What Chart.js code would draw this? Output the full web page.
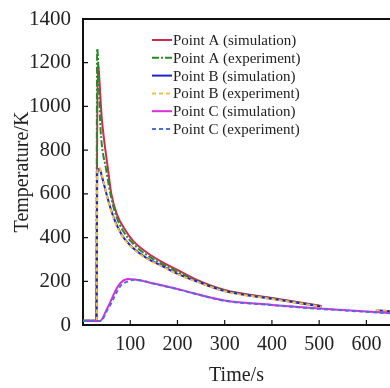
<!DOCTYPE html>
<html>
<head>
<meta charset="utf-8">
<script src="https://cdn.jsdelivr.net/npm/chart.js@4.4.1/dist/chart.umd.min.js"></script>
<style>
  html, body { margin: 0; padding: 0; background: #fff; overflow: hidden; }
  #wrap { width: 390px; height: 388px; }
</style>
</head>
<body>
<div id="wrap"><canvas id="chart" width="390" height="388"></canvas></div>
<script>
// Temperature history at points A, B, C (simulation vs experiment)

var xTicks = [100, 200, 300, 400, 500, 600];
var yTicks = [0, 200, 400, 600, 800, 1000, 1200, 1400];

// Point A
var timeA = [0, 28, 31, 40, 53, 60, 72, 89, 106, 135, 170, 205, 240, 300, 400, 505];
var aSim  = [20, 20, 1200, 940, 711, 600, 505, 436, 385, 332, 285, 246, 207, 160, 124, 87];
var timeAExp = [0, 28, 30, 37, 49, 60, 70, 85, 106, 135, 170, 205, 240, 300, 400, 505];
var aExp     = [20, 20, 1265, 900, 711, 580, 500, 430, 372, 320, 276, 238, 203, 158, 122, 86];

// Point B (null = gap in the record)
var timeB = [0, 29, 30, 35, 40, 53, 64, 82, 106, 135, 170, 205, 240, 300, 400, 505, 560, 620, 650];
var bSim  = [20, 20, 690, 715, 680, 573, 497, 413, 352, 306, 267, 229, 200, 155, 120, 85, null, 68, 63];
var bExp  = [20, 20, 700, 720, 685, 570, 492, 410, 350, 303, 265, 228, 199, 154, 119, 84, null, 69, 64];

// Point C
var timeC = [0, 36, 50, 57, 65, 75, 85, 95, 110, 150, 200, 226, 300, 400, 500, 650];
var cSim  = [18, 18, 70, 101, 140, 180, 203, 211, 208, 190, 165, 150, 112, 92, 75, 55];
var timeCExp = [0, 37, 52, 60, 70, 80, 95, 110, 150, 200, 300, 400, 500, 650];
var cExp     = [18, 18, 70, 101, 145, 180, 200, 207, 189, 164, 111, 91, 74, 54];

var seriesLabels = [
    'Point A (simulation)', 'Point A (experiment)',
    'Point B (simulation)', 'Point B (experiment)',
    'Point C (simulation)', 'Point C (experiment)'
];

function pts(xs, ys) {
    return xs.map(function (x, i) { return { x: x, y: ys[i] }; });
}

var SERIF = '"Liberation Serif", "Times New Roman", serif';

function makeSet(label, xs, ys, color, dash, order) {
    return {
        label: label,
        data: pts(xs, ys),
        borderColor: color,
        backgroundColor: color,
        borderWidth: 2,
        borderDash: dash,
        pointRadius: 0,
        cubicInterpolationMode: 'monotone',
        spanGaps: false,
        order: order
    };
}

// legend drawn inside the plot, like the original figure
var innerLegend = {
    id: 'innerLegend',
    afterDraw: function (chart) {
        var ctx = chart.ctx;
        var area = chart.chartArea;
        var x0 = area.left + 69;
        var y0 = area.top + 21;
        ctx.save();
        ctx.font = '15px ' + SERIF;
        ctx.textBaseline = 'middle';
        chart.data.datasets.forEach(function (ds, i) {
            var y = y0 + i * 17.8;
            ctx.beginPath();
            ctx.strokeStyle = ds.borderColor;
            ctx.lineWidth = 2;
            ctx.setLineDash(ds.borderDash || []);
            ctx.moveTo(x0, y);
            ctx.lineTo(x0 + 20, y);
            ctx.stroke();
            ctx.setLineDash([]);
            ctx.fillStyle = '#222';
            ctx.fillText(ds.label, x0 + 21, y + 1);
        });
        ctx.restore();
    }
};

// inward tick marks + top frame line
var frame = {
    id: 'frame',
    afterDraw: function (chart) {
        var ctx = chart.ctx;
        var area = chart.chartArea;
        var xs = chart.scales.x, ys = chart.scales.y;
        ctx.save();
        ctx.strokeStyle = '#111';
        ctx.lineWidth = 2;
        ctx.beginPath();
        ctx.moveTo(area.left - 1, area.top);
        ctx.lineTo(area.right + 5, area.top);
        ctx.stroke();
        ctx.lineWidth = 1.2;
        ctx.beginPath();
        xs.ticks.forEach(function (t) {
            var px = xs.getPixelForValue(t.value);
            ctx.moveTo(px, area.bottom);
            ctx.lineTo(px, area.bottom - 5);
        });
        ys.ticks.forEach(function (t) {
            var py = ys.getPixelForValue(t.value);
            ctx.moveTo(area.left, py);
            ctx.lineTo(area.left + 5, py);
        });
        ctx.stroke();
        ctx.restore();
    }
};

function plain(v) { return String(v); }

new Chart(document.getElementById('chart').getContext('2d'), {
    type: 'line',
    data: {
        datasets: [
            makeSet(seriesLabels[0], timeA, aSim, '#cc2d4f', [], 6),
            makeSet(seriesLabels[1], timeAExp, aExp, '#2a8a2a', [7, 2, 2, 2], 5),
            makeSet(seriesLabels[2], timeB, bSim, '#1f22c8', [], 4),
            makeSet(seriesLabels[3], timeB, bExp, '#f4c043', [4, 3], 3),
            makeSet(seriesLabels[4], timeC, cSim, '#e02ae0', [], 2),
            makeSet(seriesLabels[5], timeCExp, cExp, '#4a72d4', [4, 3], 1)
        ]
    },
    options: {
        responsive: false,
        animation: false,
        layout: { padding: { top: 19, right: 0, left: 0, bottom: 0 } },
        plugins: {
            legend: { display: false },
            tooltip: { enabled: false }
        },
        scales: {
            x: {
                type: 'linear',
                min: 0,
                max: 650,
                afterBuildTicks: function (scale) {
                    scale.ticks = xTicks.map(function (v) { return { value: v }; });
                },
                afterFit: function (scale) { scale.height = 63; },
                grid: { display: false },
                border: { display: true, color: '#111', width: 2 },
                ticks: {
                    color: '#222',
                    padding: 0,
                    maxRotation: 0,
                    callback: plain,
                    font: { family: SERIF, size: 20 }
                },
                title: {
                    display: true,
                    text: 'Time/s',
                    color: '#222',
                    font: { family: SERIF, size: 20 },
                    padding: { top: 0, bottom: 0 }
                }
            },
            y: {
                min: 0,
                max: 1400,
                afterBuildTicks: function (scale) {
                    scale.ticks = yTicks.map(function (v) { return { value: v }; });
                },
                afterFit: function (scale) { scale.width = 83; },
                grid: { display: false },
                border: { display: true, color: '#111', width: 2 },
                ticks: {
                    color: '#222',
                    padding: 4,
                    callback: plain,
                    font: { family: SERIF, size: 21 }
                },
                title: {
                    display: true,
                    text: 'Temperature/K',
                    color: '#222',
                    font: { family: SERIF, size: 20 },
                    padding: { top: 11, bottom: 0 }
                }
            }
        }
    },
    plugins: [innerLegend, frame]
});
</script>
</body>
</html>
